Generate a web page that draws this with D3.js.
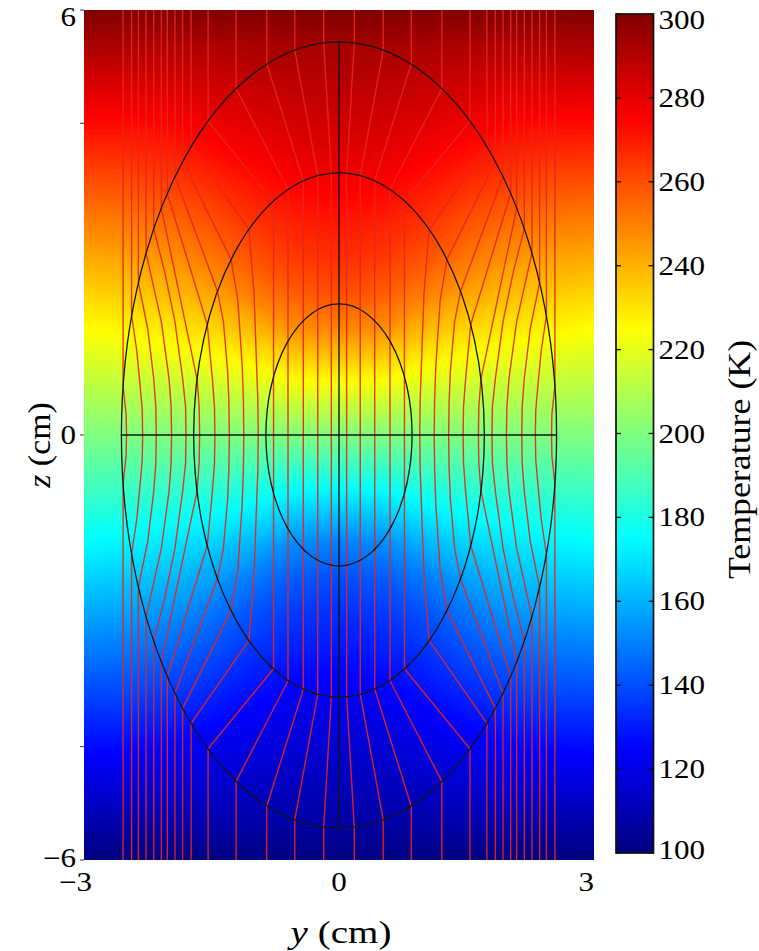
<!DOCTYPE html>
<html>
<head>
<meta charset="utf-8">
<script src="https://cdn.jsdelivr.net/npm/d3@7/dist/d3.min.js"></script>
<style>
body { margin: 0; background: #fff; }
text { font-family: "Liberation Serif", "Times New Roman", serif; fill: #000; }
</style>
</head>
<body>
<svg width="759" height="951"></svg>
<script>
// ---- data (cm / K) ---------------------------------------------------
var yTicks = [-3, 0, 3];
var zTicks = [-6, 0, 6];
var zMinorTicks = [-4.4, 4.4];
var tempTicks = [100, 120, 140, 160, 180, 200, 220, 240, 260, 280, 300];

// semi-axes of the three ellipses: inner, middle, outer
var ellipseA = [0.86, 1.71, 2.56];
var ellipseB = [1.85, 3.70, 5.55];

// temperature, quadrant y >= 0, z >= 0
// (field is mirror symmetric in y, and T(y,-z) = 400 - T(y,z))
var gridY = [0, 0.5, 1, 1.5, 2, 2.5, 3];
var gridZ = [0, 0.5, 1, 1.5, 2, 2.5, 3, 3.5, 4, 4.5, 5, 5.5, 6];
var tempRows = [
    [200, 200, 200, 200, 200, 200, 200],
    [216, 216, 213, 211, 210, 209, 208.3],
    [233, 232, 226, 222, 219.5, 218, 216.7],
    [249, 247, 239, 233, 229, 226.5, 225],
    [260, 257, 251, 243, 238, 235, 233.3],
    [266, 264, 259, 252, 246, 243, 241.7],
    [271, 269, 265, 259, 254, 251, 250],
    [276, 275, 271, 266, 262, 259, 258.3],
    [281, 280, 277, 273, 269, 267, 266.7],
    [285, 284.5, 282, 279, 276, 275, 275],
    [289, 288.5, 287, 285, 283, 283, 283.3],
    [293, 293, 292, 291, 291, 291.5, 291.7],
    [300, 300, 300, 300, 300, 300, 300]
];

// heat flux lines, upper-left quadrant, [y, z] points from z = 0 to the top
var coreLines = [
    [[-0.09, 0], [-0.09, 3.69], [-0.18, 5.54], [-0.18, 6]],
    [[-0.25, 0], [-0.25, 3.66], [-0.52, 5.43], [-0.52, 6]],
    [[-0.42, 0], [-0.42, 3.59], [-0.85, 5.24], [-0.85, 6]],
    [[-0.60, 0], [-0.60, 3.47], [-1.21, 4.89], [-1.21, 6]],
    [[-0.77, 0], [-0.77, 3.30], [-1.54, 4.43], [-1.54, 6]]
];
var shellLines = [
    [[-0.95, 0], [-0.955, 0.5], [-0.97, 1.0], [-1.0, 2.0], [-1.06, 2.9], [-1.74, 4.07], [-1.74, 6]],
    [[-1.12, 0], [-1.125, 0.5], [-1.14, 1.0], [-1.19, 1.9], [-1.27, 2.48], [-1.84, 3.86], [-1.84, 6]],
    [[-1.29, 0], [-1.295, 0.45], [-1.31, 0.9], [-1.36, 1.6], [-1.43, 2.03], [-1.93, 3.65], [-1.93, 6]],
    [[-1.46, 0], [-1.465, 0.4], [-1.49, 0.8], [-1.55, 1.56], [-2.02, 3.41], [-2.02, 6]],
    [[-1.64, 0], [-1.645, 0.4], [-1.67, 0.79], [-1.88, 2.0], [-2.09, 3.2], [-2.09, 6]]
];
var outerLines = [
    [[-1.80, 0], [-1.805, 0.4], [-1.84, 0.8], [-1.93, 1.6], [-2.05, 2.3], [-2.18, 2.91], [-2.18, 6]],
    [[-1.97, 0], [-1.975, 0.4], [-2.00, 0.8], [-2.09, 1.6], [-2.27, 2.57], [-2.27, 6]],
    [[-2.15, 0], [-2.155, 0.4], [-2.18, 0.8], [-2.25, 1.5], [-2.36, 2.15], [-2.36, 6]],
    [[-2.31, 0], [-2.315, 0.35], [-2.34, 0.7], [-2.38, 1.2], [-2.44, 1.68], [-2.44, 6]],
    [[-2.50, 0], [-2.505, 0.3], [-2.54, 0.69], [-2.54, 6]]
];

// MATLAB jet
var jetTemps = [100, 125, 175, 225, 275, 300];
var jetColors = ['#000080', '#0000ff', '#00ffff', '#ffff00', '#ff0000', '#800000'];

// ---- layout -----------------------------------------------------------
var plot = {left: 84, top: 10, width: 510, height: 850};
var cbar = {left: 616, top: 14, width: 37.5, height: 839};
var fs = 27;          // tick labels
var fsTitle = 32;     // axis titles
var stretch = 1.15;   // the figure's text is drawn wide

var svg = d3.select('svg');
var x = d3.scaleLinear().domain([-3, 3]).range([plot.left, plot.left + plot.width]);
var z = d3.scaleLinear().domain([-6, 6]).range([plot.top + plot.height, plot.top]);
var color = d3.scaleLinear().domain(jetTemps).range(jetColors);

svg.append('clipPath').attr('id', 'plotclip')
    .append('rect')
    .attr('x', plot.left).attr('y', plot.top)
    .attr('width', plot.width).attr('height', plot.height);

var field = svg.append('g').attr('clip-path', 'url(#plotclip)');

/**************************************************************
 ** temperature field: full grid from the quadrant, then contours
 **************************************************************/
var nx = gridY.length * 2 - 1;
var nz = gridZ.length * 2 - 1;
var step = gridY[1] - gridY[0];
var values = [];
for (var r = 0; r < nz; r++) {
    var zi = gridZ.length - 1 - r;          // row 0 is the top
    for (var c = 0; c < nx; c++) {
        var yi = Math.abs(c - (gridY.length - 1));
        var t = zi >= 0 ? tempRows[zi][yi] : 400 - tempRows[-zi][yi];
        values.push(t);
    }
}
var yMin = -gridY[gridY.length - 1];
var zMax = gridZ[gridZ.length - 1];
var gridProj = d3.geoTransform({
    point: function(gx, gy) {
        this.stream.point(x(yMin + (gx - 0.5) * step), z(zMax - (gy - 0.5) * step));
    }
});
var thresholds = d3.range(100, 300.5, 1);
var bands = d3.contours().size([nx, nz]).thresholds(thresholds)(values);
field.selectAll('path.band')
    .data(bands).enter().append('path')
    .attr('class', 'band')
    .attr('d', d3.geoPath(gridProj))
    .attr('fill', function(d) { return color(d.value + 0.5); })
    .attr('stroke', function(d) { return color(d.value + 0.5); })
    .attr('stroke-width', 0.6);

/**************************************************************
 ** flux lines (mirrored into the four quadrants)
 **************************************************************/
var allLines = [];
coreLines.concat(shellLines, outerLines).forEach(function(pts) {
    [1, -1].forEach(function(sy) {
        var lower = pts.slice().reverse().map(function(p) { return [sy * p[0], -p[1]]; });
        var upper = pts.map(function(p) { return [sy * p[0], p[1]]; });
        allLines.push(lower.concat(upper.slice(1)));
    });
});
var fluxLine = d3.line()
    .x(function(d) { return x(d[0]); })
    .y(function(d) { return z(d[1]); });
field.selectAll('path.flux')
    .data(allLines).enter().append('path')
    .attr('class', 'flux')
    .attr('d', fluxLine)
    .attr('fill', 'none')
    .attr('stroke', '#e6261c')
    .attr('stroke-opacity', 0.9)
    .attr('stroke-linejoin', 'round')
    .attr('stroke-width', 1.4);

// ellipses and the two axes of the device
field.selectAll('ellipse')
    .data(ellipseA).enter().append('ellipse')
    .attr('cx', x(0)).attr('cy', z(0))
    .attr('rx', function(a) { return x(a) - x(0); })
    .attr('ry', function(a, i) { return z(0) - z(ellipseB[i]); })
    .attr('fill', 'none')
    .attr('stroke', '#141414')
    .attr('stroke-width', 1.3);

var aOut = ellipseA[2], bOut = ellipseB[2];
field.append('line')
    .attr('x1', x(-aOut)).attr('x2', x(aOut))
    .attr('y1', z(0)).attr('y2', z(0))
    .attr('stroke', '#141414').attr('stroke-width', 1.4);
field.append('line')
    .attr('x1', x(0)).attr('x2', x(0))
    .attr('y1', z(bOut)).attr('y2', z(-bOut))
    .attr('stroke', '#141414').attr('stroke-width', 1.4);

/**************************************************************
 ** axes
 **************************************************************/
function numLabel(d) { return d < 0 ? '\u2212' + Math.abs(d) : String(d); }

svg.selectAll('line.ztick')
    .data(zTicks.concat(zMinorTicks)).enter().append('line')
    .attr('class', 'ztick')
    .attr('x1', plot.left - 4).attr('x2', plot.left)
    .attr('y1', function(d) { return z(d); }).attr('y2', function(d) { return z(d); })
    .attr('stroke', '#333').attr('stroke-width', 1);

// labels at the ends are pulled inside the axis box
svg.selectAll('text.zlab')
    .data(zTicks).enter().append('text')
    .attr('class', 'zlab')
    .attr('transform', function(d) {
        var dy = d === 6 ? 16 : d === -6 ? 7 : 9;
        return 'translate(' + (plot.left - 8) + ',' + (z(d) + dy) + ')scale(' + stretch + ',1)';
    })
    .attr('text-anchor', 'end')
    .style('font-size', fs + 'px')
    .text(numLabel);

svg.selectAll('text.ylab')
    .data(yTicks).enter().append('text')
    .attr('class', 'ylab')
    .attr('transform', function(d) {
        var dx = d < 0 ? 8 : 0;
        return 'translate(' + (x(d) + dx) + ',' + (plot.top + plot.height + 31) + ')scale(' + stretch + ',1)';
    })
    .attr('text-anchor', function(d) { return d === 0 ? 'middle' : 'end'; })
    .style('font-size', fs + 'px')
    .text(numLabel);

var xl = svg.append('text')
    .attr('transform', 'translate(' + (x(0) + 2) + ',943)scale(1.22,1)')
    .attr('text-anchor', 'middle')
    .style('font-size', fsTitle + 'px');
xl.append('tspan').style('font-style', 'italic').text('y');
xl.append('tspan').text(' (cm)');

var zl = svg.append('text')
    .attr('transform', 'translate(50,' + (z(0) + 10) + ')rotate(-90)scale(1.06,1)')
    .attr('text-anchor', 'middle')
    .style('font-size', fsTitle + 'px');
zl.append('tspan').style('font-style', 'italic').text('z');
zl.append('tspan').text(' (cm)');

/**************************************************************
 ** colorbar
 **************************************************************/
var tScale = d3.scaleLinear().domain([100, 300]).range([cbar.top + cbar.height, cbar.top]);
var grad = svg.append('defs').append('linearGradient')
    .attr('id', 'jet').attr('x1', 0).attr('y1', 1).attr('x2', 0).attr('y2', 0);
grad.selectAll('stop')
    .data(jetTemps).enter().append('stop')
    .attr('offset', function(d) { return (d - 100) / 200; })
    .attr('stop-color', function(d) { return color(d); });

svg.append('rect')
    .attr('x', cbar.left).attr('y', cbar.top)
    .attr('width', cbar.width).attr('height', cbar.height)
    .attr('fill', 'url(#jet)')
    .attr('stroke', '#111').attr('stroke-width', 1.7);

var cticks = svg.selectAll('g.ctick')
    .data(tempTicks).enter().append('g')
    .attr('class', 'ctick')
    .attr('transform', function(d) { return 'translate(0,' + tScale(d) + ')'; });
cticks.append('line')
    .attr('x1', cbar.left).attr('x2', cbar.left + 5)
    .attr('stroke', '#111').attr('stroke-width', 1.3);
cticks.append('line')
    .attr('x1', cbar.left + cbar.width - 5).attr('x2', cbar.left + cbar.width)
    .attr('stroke', '#111').attr('stroke-width', 1.3);
cticks.append('text')
    .attr('transform', function(d) {
        var dy = d === 300 ? 15 : d === 100 ? 6 : 9;
        return 'translate(' + (cbar.left + cbar.width + 5) + ',' + dy + ')scale(' + stretch + ',1)';
    })
    .style('font-size', fs + 'px')
    .text(function(d) { return d; });

svg.append('text')
    .attr('transform', 'translate(750,' + (tScale(200) + 26) + ')rotate(-90)scale(1.12,1)')
    .attr('text-anchor', 'middle')
    .style('font-size', fsTitle + 'px')
    .text('Temperature (K)');
</script>
</body>
</html>
